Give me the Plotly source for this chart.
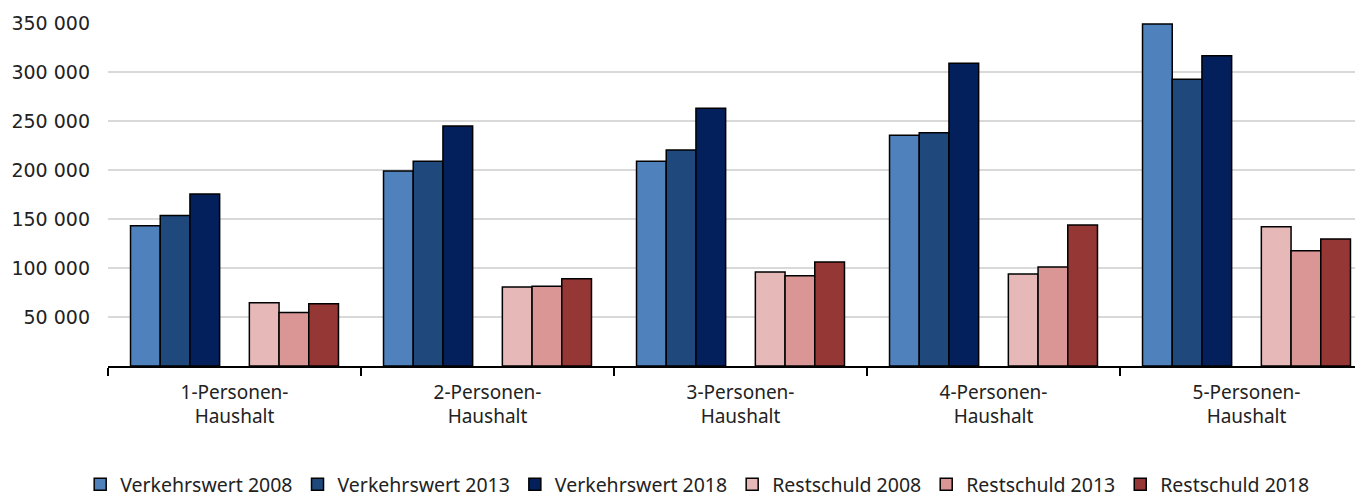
import plotly.graph_objects as go

# Kategorien und Werte (EUR)
haushalte = ["1-Personen-<br>Haushalt", "2-Personen-<br>Haushalt", "3-Personen-<br>Haushalt",
             "4-Personen-<br>Haushalt", "5-Personen-<br>Haushalt"]

verkehrswert_2008 = [143000, 199000, 209000, 235500, 349000]
verkehrswert_2013 = [153500, 209000, 220500, 238000, 292500]
verkehrswert_2018 = [175500, 245000, 263000, 309000, 316500]
restschuld_2008 = [64500, 80500, 96000, 94000, 142000]
restschuld_2013 = [54500, 81500, 92000, 101000, 117500]
restschuld_2018 = [63500, 89000, 106000, 144000, 129500]

reihen = [
    ("Verkehrswert 2008", verkehrswert_2008, "#4F81BD"),
    ("Verkehrswert 2013", verkehrswert_2013, "#1F497D"),
    ("Verkehrswert 2018", verkehrswert_2018, "#03205C"),
    (None, None, None),  # Lücke zwischen Verkehrswert und Restschuld
    ("Restschuld 2008", restschuld_2008, "#E6B9B8"),
    ("Restschuld 2013", restschuld_2013, "#D99694"),
    ("Restschuld 2018", restschuld_2018, "#953735"),
]

fig = go.Figure()
for name, werte, farbe in reihen:
    if name is None:
        fig.add_trace(go.Bar(x=haushalte, y=[None] * len(haushalte), showlegend=False,
                             hoverinfo="skip"))
        continue
    fig.add_trace(go.Bar(x=haushalte, y=werte, name=name,
                         marker=dict(color=farbe, line=dict(color="black", width=1.5))))

# Seite hat 8px Rand -> Figur etwas kleiner
fig.update_layout(
    width=1355, height=496,
    margin=dict(l=100, r=0, t=15, b=138, autoexpand=False),
    plot_bgcolor="white", paper_bgcolor="white",
    barmode="group", bargap=0.178, bargroupgap=0,
    font=dict(family="Noto Sans", size=19, color="#222"),
    legend=dict(orientation="h", xref="container", x=0.509, xanchor="center",
                yref="container", y=0.0, yanchor="bottom",
                font=dict(size=19.5), itemwidth=30, tracegroupgap=0),
    xaxis=dict(range=[-0.5, -0.5 + 1255 / 253], showline=True, linecolor="black",
               linewidth=1.5, ticks="outside", tickson="boundaries", ticklen=8,
               tickcolor="black", tickwidth=1.5, showgrid=False, automargin=False,
               ticklabelstandoff=8, tickfont=dict(family="Noto Sans", size=19)),
    yaxis=dict(range=[0, 350000], tickvals=[50000, 100000, 150000, 200000, 250000, 300000, 350000],
               ticktext=["50 000", "100 000", "150 000", "200 000", "250 000", "300 000", "350 000"],
               showgrid=True, gridcolor="#d9d9d9", gridwidth=1.5, zeroline=False,
               showline=False, ticks="", ticklabelstandoff=17, automargin=False,
               tickfont=dict(family="DejaVu Sans", size=19)),
)

fig.write_html("out.html")
